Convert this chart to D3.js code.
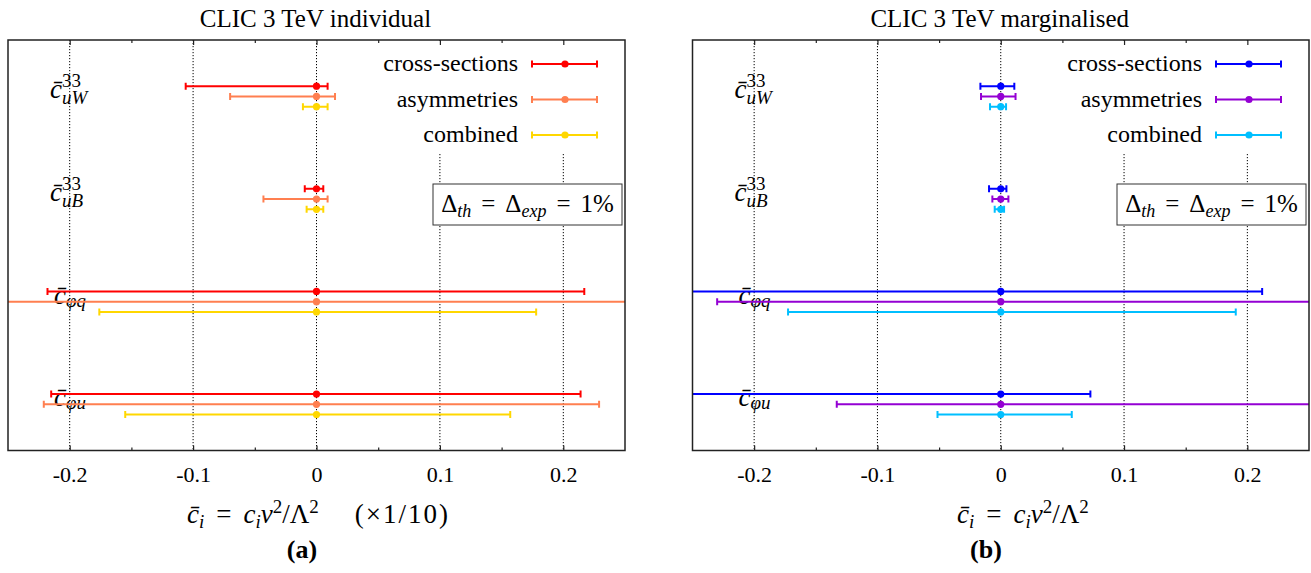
<!DOCTYPE html>
<meta charset="utf-8">
<style>

    body { margin: 0; background: #fff; }
    svg text { font-family: "Liberation Serif", "Times New Roman", serif; fill: #000; }

    .frame { fill: none; stroke: #222; stroke-width: 1.5; }
    .grid { stroke: #000; stroke-width: 1; stroke-dasharray: 1.2,1.8; }
    .axis path { display: none; }
    .axis line { stroke: #222; stroke-width: 1.2; }
    .axis text { font-size: 22px; }
    .title { font-size: 25px; }
    .tag { font-size: 26px; font-weight: bold; }
    .it { font-style: italic; }
    .bar { stroke-width: 2; fill: none; }

</style>
<svg width="1311" height="573"></svg>
<script src="https://d3js.org/d3.v7.min.js"></script>
<script>

    var params = ["uW", "uB", "phiq", "phiu"];
    var paramSup = ["33", "33", "", ""];
    var paramSub = ["uW", "uB", "\u03c6q", "\u03c6u"];
    var series = ["cross-sections", "asymmetries", "combined"];
    var xTicks = [-0.2, -0.1, 0, 0.1, 0.2];
    var xMinorTicks = [-0.15, -0.05, 0.05, 0.15];

    // best fit points (all at zero)
    var central = [0, 0, 0, 0];

    // (a) individual, intervals per operator (x1/10)
    var indivXsecLow  = [-0.106, -0.0095, -0.218, -0.215];
    var indivXsecHigh = [ 0.009,  0.0055,  0.217,  0.214];
    var indivAsymLow  = [-0.070, -0.043,  -0.30,  -0.221];
    var indivAsymHigh = [ 0.015,  0.009,   0.30,   0.229];
    var indivCombLow  = [-0.011, -0.008,  -0.176, -0.155];
    var indivCombHigh = [ 0.009,  0.0055,  0.178,  0.157];

    // (b) marginalised
    var margXsecLow  = [-0.0165, -0.0095, -0.30,   -0.30];
    var margXsecHigh = [ 0.011,   0.0046,  0.212,   0.0727];
    var margAsymLow  = [-0.016,  -0.0068, -0.230,  -0.133];
    var margAsymHigh = [ 0.012,   0.0062,  0.30,    0.30];
    var margCombLow  = [-0.0087, -0.0049, -0.1725, -0.0513];
    var margCombHigh = [ 0.0043,  0.0027,  0.1906,  0.0576];

    var indivColours = ["#ff0000", "#ff7f50", "#ffd700"];
    var margColours = ["#0000ff", "#9400d3", "#00bfff"];

    var svg = d3.select("svg"),
        yTop = 40,
        yBottom = 450.5;

    var panels = [
        { id: "a", left: 8, right: 625, title: "CLIC 3 TeV individual", tag: "(a)", tagX: 302,
          labelX: 187, note: "(\u00d71/10)", colours: indivColours,
          low: [indivXsecLow, indivAsymLow, indivCombLow],
          high: [indivXsecHigh, indivAsymHigh, indivCombHigh] },
        { id: "b", left: 692.5, right: 1309, title: "CLIC 3 TeV marginalised", tag: "(b)", tagX: 986,
          labelX: 957, note: null, colours: margColours,
          low: [margXsecLow, margAsymLow, margCombLow],
          high: [margXsecHigh, margAsymHigh, margCombHigh] }
    ];

    var fmt = function(d) { return d === 0 ? "0" : String(d); };

    function errorBar(g, y, lo, hi, mid, colour) {
        g.append("line").attr("class", "bar").attr("stroke", colour)
            .attr("x1", lo).attr("x2", hi).attr("y1", y).attr("y2", y);
        [lo, hi].forEach(function(cx) {
            g.append("line").attr("class", "bar").attr("stroke", colour)
                .attr("x1", cx).attr("x2", cx).attr("y1", y - 3.5).attr("y2", y + 3.5);
        });
        g.append("circle").attr("cx", mid).attr("cy", y).attr("r", 3.6).attr("fill", colour);
    }

    panels.forEach(function(p) {
        var g = svg.append("g");

        var x = d3.scaleLinear()
            .domain([-0.25, 0.25])
            .range([p.left, p.right]);

        var y = d3.scaleBand()
            .domain(params)
            .range([yTop, yBottom]);

        var ySub = d3.scalePoint()
            .domain(series)
            .range([0.45 * y.bandwidth(), 0.65 * y.bandwidth()]);

        // grid
        g.selectAll(".grid").data(xTicks).enter().append("line")
            .attr("class", "grid")
            .attr("x1", x).attr("x2", x)
            .attr("y1", yTop).attr("y2", yBottom);

        // legend background hides the grid
        var legX = p.right - 107;
        g.append("rect")
            .attr("x", legX - 150).attr("y", yTop + 1)
            .attr("width", p.right - legX + 149).attr("height", 112)
            .attr("fill", "#fff");

        series.forEach(function(s, k) {
            var ly = 64 + k * 35.5;
            g.append("text")
                .attr("x", legX).attr("y", ly + 7)
                .attr("text-anchor", "end")
                .attr("font-size", 24)
                .text(s);
            errorBar(g, ly, legX + 14, legX + 79, legX + 47, p.colours[k]);
        });

        // note box
        var box = g.append("g");
        box.append("rect")
            .attr("x", p.right - 192).attr("y", 184)
            .attr("width", 189).attr("height", 41)
            .attr("fill", "#fff").attr("stroke", "#333").attr("stroke-width", 1);
        var bt = box.append("text")
            .attr("x", p.right - 97.5).attr("y", 212)
            .attr("text-anchor", "middle")
            .attr("font-size", 25);
        bt.append("tspan").text("\u0394");
        bt.append("tspan").attr("class", "it").attr("font-size", 18).attr("dy", 5).text("th");
        bt.append("tspan").attr("dx", 10).attr("dy", -5).text("=");
        bt.append("tspan").attr("dx", 10).text("\u0394");
        bt.append("tspan").attr("class", "it").attr("font-size", 18).attr("dy", 5).text("exp");
        bt.append("tspan").attr("dx", 10).attr("dy", -5).text("=");
        bt.append("tspan").attr("dx", 10).text("1%");

        // operator labels
        params.forEach(function(q, i) {
            var yc = y(q) + 0.55 * y.bandwidth(),
                lx = p.left + (paramSup[i] ? 42 : 46);
            g.append("text").attr("class", "it")
                .attr("x", lx).attr("y", yc + 2)
                .attr("font-size", 27)
                .text("c\u0304");
            if (paramSup[i]) {
                g.append("text")
                    .attr("x", lx + 12).attr("y", yc - 9)
                    .attr("font-size", 19)
                    .text(paramSup[i]);
                g.append("text").attr("class", "it")
                    .attr("x", lx + 12).attr("y", yc + 8)
                    .attr("font-size", 19)
                    .text(paramSub[i]);
            } else {
                g.append("text").attr("class", "it")
                    .attr("x", lx + 12).attr("y", yc + 5)
                    .attr("font-size", 19)
                    .text(paramSub[i]);
            }
        });

        // error bars, clipped to the frame
        g.append("clipPath").attr("id", "clip-" + p.id)
            .append("rect")
            .attr("x", p.left).attr("y", yTop)
            .attr("width", p.right - p.left).attr("height", yBottom - yTop);

        var bars = g.append("g").attr("clip-path", "url(#clip-" + p.id + ")");
        series.forEach(function(s, k) {
            params.forEach(function(q, i) {
                errorBar(bars, y(q) + ySub(s),
                    x(p.low[k][i]), x(p.high[k][i]), x(central[i]), p.colours[k]);
            });
        });

        // axes
        g.append("g").attr("class", "axis")
            .attr("transform", "translate(0," + yBottom + ")")
            .call(d3.axisBottom(x).tickValues(xTicks).tickSize(-5).tickFormat(fmt))
            .selectAll("text").attr("y", 31).attr("dy", 0);
        g.append("g").attr("class", "axis")
            .attr("transform", "translate(0," + yBottom + ")")
            .call(d3.axisBottom(x).tickValues(xMinorTicks).tickSize(-3).tickFormat(""));
        g.append("g").attr("class", "axis")
            .attr("transform", "translate(0," + yTop + ")")
            .call(d3.axisTop(x).tickValues(xTicks).tickSize(-5).tickFormat(""));
        g.append("g").attr("class", "axis")
            .attr("transform", "translate(0," + yTop + ")")
            .call(d3.axisTop(x).tickValues(xMinorTicks).tickSize(-3).tickFormat(""));

        g.append("rect").attr("class", "frame")
            .attr("x", p.left).attr("y", yTop)
            .attr("width", p.right - p.left).attr("height", yBottom - yTop);

        // title
        g.append("text").attr("class", "title")
            .attr("x", (p.left + p.right) / 2 - 1).attr("y", 27)
            .attr("text-anchor", "middle")
            .text(p.title);

        // x label
        var xl = g.append("text")
            .attr("x", p.labelX).attr("y", 523)
            .attr("font-size", 27);
        xl.append("tspan").attr("class", "it").text("c\u0304");
        xl.append("tspan").attr("class", "it").attr("font-size", 19).attr("dy", 5).text("i");
        xl.append("tspan").attr("dx", 12).attr("dy", -5).text("=");
        xl.append("tspan").attr("class", "it").attr("dx", 12).text("c");
        xl.append("tspan").attr("class", "it").attr("font-size", 19).attr("dy", 5).text("i");
        xl.append("tspan").attr("class", "it").attr("dy", -5).text("v");
        xl.append("tspan").attr("font-size", 19).attr("dy", -10).text("2");
        xl.append("tspan").attr("dy", 10).text("/\u039b");
        xl.append("tspan").attr("font-size", 19).attr("dy", -10).text("2");
        if (p.note) {
            xl.append("tspan").attr("dx", 36).attr("dy", 10)
                .attr("letter-spacing", 2).text(p.note);
        }

        g.append("text").attr("class", "tag")
            .attr("x", p.tagX).attr("y", 558)
            .attr("text-anchor", "middle")
            .text(p.tag);
    });

</script>
